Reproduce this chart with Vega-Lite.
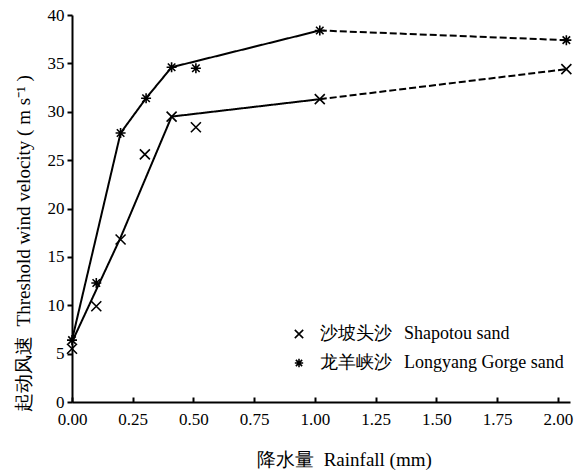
{
  "$schema": "https://vega.github.io/schema/vega-lite/v6.json",
  "width": 498,
  "height": 387,
  "autosize": "none",
  "padding": {"left": 72, "top": 15, "right": 4, "bottom": 68},
  "background": "white",
  "config": {
    "view": {"stroke": null},
    "axis": {
      "domainColor": "black",
      "domainWidth": 2,
      "tickColor": "black",
      "tickWidth": 2,
      "tickSize": 5,
      "grid": false,
      "labelFlush": false,
      "labelFont": "Liberation Serif",
      "labelFontSize": 17,
      "labelColor": "black",
      "titleFont": "Liberation Serif",
      "titleFontSize": 19,
      "titleFontWeight": "normal",
      "titleColor": "black"
    }
  },
  "datasets": {
    "points": [
      {"series": "沙坡头沙\u2002\u2006Shapotou sand", "rainfall": 0.0, "velocity": 5.5},
      {"series": "沙坡头沙\u2002\u2006Shapotou sand", "rainfall": 0.1, "velocity": 9.9},
      {"series": "沙坡头沙\u2002\u2006Shapotou sand", "rainfall": 0.2, "velocity": 16.8},
      {"series": "沙坡头沙\u2002\u2006Shapotou sand", "rainfall": 0.3, "velocity": 25.6},
      {"series": "沙坡头沙\u2002\u2006Shapotou sand", "rainfall": 0.41, "velocity": 29.5},
      {"series": "沙坡头沙\u2002\u2006Shapotou sand", "rainfall": 0.51, "velocity": 28.4},
      {"series": "沙坡头沙\u2002\u2006Shapotou sand", "rainfall": 1.02, "velocity": 31.3},
      {"series": "沙坡头沙\u2002\u2006Shapotou sand", "rainfall": 2.035, "velocity": 34.4},
      {"series": "龙羊峡沙\u2002\u2006Longyang Gorge sand", "rainfall": 0.0, "velocity": 6.4},
      {"series": "龙羊峡沙\u2002\u2006Longyang Gorge sand", "rainfall": 0.1, "velocity": 12.3},
      {"series": "龙羊峡沙\u2002\u2006Longyang Gorge sand", "rainfall": 0.2, "velocity": 27.8},
      {"series": "龙羊峡沙\u2002\u2006Longyang Gorge sand", "rainfall": 0.305, "velocity": 31.4},
      {"series": "龙羊峡沙\u2002\u2006Longyang Gorge sand", "rainfall": 0.41, "velocity": 34.6},
      {"series": "龙羊峡沙\u2002\u2006Longyang Gorge sand", "rainfall": 0.51, "velocity": 34.5},
      {"series": "龙羊峡沙\u2002\u2006Longyang Gorge sand", "rainfall": 1.02, "velocity": 38.4},
      {"series": "龙羊峡沙\u2002\u2006Longyang Gorge sand", "rainfall": 2.035, "velocity": 37.4}
    ],
    "lines": [
      {"series": "Shapotou", "style": "solid", "rainfall": 0.0, "velocity": 6.2},
      {"series": "Shapotou", "style": "solid", "rainfall": 0.2, "velocity": 17.0},
      {"series": "Shapotou", "style": "solid", "rainfall": 0.41, "velocity": 29.5},
      {"series": "Shapotou", "style": "solid", "rainfall": 1.02, "velocity": 31.3},
      {"series": "Shapotou", "style": "dashed", "rainfall": 1.02, "velocity": 31.3},
      {"series": "Shapotou", "style": "dashed", "rainfall": 2.035, "velocity": 34.4},
      {"series": "Longyang", "style": "solid", "rainfall": 0.0, "velocity": 6.4},
      {"series": "Longyang", "style": "solid", "rainfall": 0.2, "velocity": 27.8},
      {"series": "Longyang", "style": "solid", "rainfall": 0.305, "velocity": 31.4},
      {"series": "Longyang", "style": "solid", "rainfall": 0.41, "velocity": 34.6},
      {"series": "Longyang", "style": "solid", "rainfall": 1.02, "velocity": 38.4},
      {"series": "Longyang", "style": "dashed", "rainfall": 1.02, "velocity": 38.4},
      {"series": "Longyang", "style": "dashed", "rainfall": 2.035, "velocity": 37.4}
    ]
  },
  "encoding": {
    "x": {
      "field": "rainfall",
      "type": "quantitative",
      "scale": {"domain": [0, 2.05], "nice": false, "zero": false},
      "axis": {
        "values": [0, 0.25, 0.5, 0.75, 1.0, 1.25, 1.5, 1.75, 2.0],
        "format": ".2f",
        "tickSize": -5,
        "labelPadding": 14,
        "title": "降水量\u2002Rainfall (mm)",
        "titleX": 272,
        "titleY": 57,
        "titleBaseline": "middle",
        "titleAlign": "center"
      }
    },
    "y": {
      "field": "velocity",
      "type": "quantitative",
      "scale": {"domain": [0, 40], "nice": false},
      "axis": {
        "values": [0, 5, 10, 15, 20, 25, 30, 35, 40],
        "labelPadding": 3,
        "title": "起动风速\u2002Threshold wind velocity ( m s⁻¹ )",
        "titleX": -49,
        "titleY": 228,
        "titleBaseline": "middle",
        "titleAlign": "center",
        "titleAngle": -90
      }
    }
  },
  "layer": [
    {
      "data": {"name": "lines"},
      "mark": {"type": "line", "color": "black", "strokeWidth": 2},
      "encoding": {
        "detail": {"field": "series", "type": "nominal"},
        "strokeDash": {
          "field": "style",
          "type": "nominal",
          "scale": {"domain": ["solid", "dashed"], "range": [[1, 0], [7, 3]]},
          "legend": null
        }
      }
    },
    {
      "data": {"name": "points"},
      "mark": {"type": "point", "filled": false, "stroke": "black", "strokeWidth": 1.6, "size": 100, "opacity": 1},
      "encoding": {
        "shape": {
          "field": "series",
          "type": "nominal",
          "scale": {
            "domain": ["沙坡头沙\u2002\u2006Shapotou sand", "龙羊峡沙\u2002\u2006Longyang Gorge sand"],
            "range": ["M-1,-1L1,1M-1,1L1,-1", "M-1,0L1,0M0,-1L0,1M-0.75,-0.75L0.75,0.75M-0.75,0.75L0.75,-0.75"]
          },
          "legend": {
            "title": null,
            "orient": "none",
            "legendX": 218,
            "legendY": 310,
            "padding": 0,
            "labelFont": "Liberation Serif",
            "labelFontSize": 18,
            "labelColor": "black",
            "labelOffset": 12,
            "labelLimit": 0,
            "symbolSize": 70,
            "symbolStrokeColor": "black",
            "symbolStrokeWidth": 1.6,
            "symbolFillColor": "transparent",
            "rowPadding": 11
          }
        }
      }
    }
  ]
}
